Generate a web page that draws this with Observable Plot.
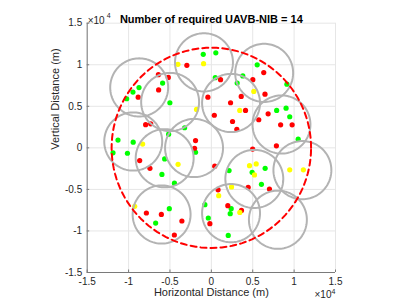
<!DOCTYPE html>
<html><head><meta charset="utf-8">
<script src="https://cdn.jsdelivr.net/npm/d3@7"></script>
<script src="https://cdn.jsdelivr.net/npm/@observablehq/plot@0.6"></script>
<style>body{margin:0;background:#fff} svg{display:block}</style>
</head><body><div id="chart"></div>
<script>
const titleText = "Number of required UAVB-NIB = 14";
const xLabel = "Horizontal Distance (m)";
const yLabel = "Vertical Distance (m)";
const xTicks = [-15000, -10000, -5000, 0, 5000, 10000, 15000];
const yTicks = [-15000, -10000, -5000, 0, 5000, 10000, 15000];
const tickLabels = ["-1.5", "-1", "-0.5", "0", "0.5", "1", "1.5"];
const exponentBase = "×10";
const exponentPower = "4";

const greenX = [-980, 540, 5540, 470, 3800, 3120, 9130, -5890, -8740, -9470, -10230, -5010, 7890, 9030, 9470, 10490, -3230, -5160, -11280, -9440, -1910, -11880, -10140, -5640, -5970, -4460, 2140, 6500, 4930, 6050, -780, 2400, 2280, -370, -5080, -6730, 2040];
const greenY = [11250, 11430, 9990, 8450, 8660, 7790, 7660, 7790, 7250, 6710, 5910, 5430, 4500, 4780, 3740, 1040, 2420, 1640, 940, 680, -530, -600, -650, -1330, -3200, -4250, -2740, -2460, -2940, -4390, -6840, -7320, -7920, -8440, -7320, -9050, -10540];
const redX = [-2960, 6330, -6400, -5200, 1110, 5010, -6370, -8840, -420, 6480, 3610, 2320, 4130, 6860, 360, 2560, 5730, 8370, 9760, 3080, -7940, -7330, -1910, -2030, 7860, 4990, -8660, -7420, 410, 7020, 4450, 810, 1990, 3640, -180, -7850, -6040, -3560, -4470];
const redY = [9930, 9060, 8800, 8480, 8200, 8200, 6970, 6100, 6100, 6460, 6190, 5430, 4500, 4100, 3920, 3170, 3380, 2770, 2770, 2240, 2790, 2890, 880, -50, 240, -150, -1530, -2460, -2200, -4950, -4750, -5050, -6960, -7530, -9130, -7840, -8010, -8800, -10490];
const yellowX = [-4040, -940, 5130, -1790, 3430, -8300, -4020, 4610, 5420, 5210, 2440, 9470, 11120, 890, 3440, -9260];
const yellowY = [10050, 10130, 6790, 4620, 4500, 460, -1980, -2140, -1930, -3260, -4700, -2650, -2650, -5750, -7770, -7040];

const uavX = [-890, 6380, -8720, -4980, 2380, 8470, -9440, -5640, -2090, 5190, 11000, 2380, 8040, -6010];
const uavY = [10290, 9020, 7270, 5520, 5400, 2810, 760, -1250, -20, -3740, -2680, -7860, -8650, -8020];
const uavRadius = 3500;
const areaCenter = [0, 0];
const areaRadius = 12050;

const points = [
  ...greenX.map((x, i) => ({x, y: greenY[i], c: "#00ff00"})),
  ...redX.map((x, i) => ({x, y: redY[i], c: "#ff0000"})),
  ...yellowX.map((x, i) => ({x, y: yellowY[i], c: "#ffff00"}))
];
const angles = d3.range(0, 361, 3).map(a => a * Math.PI / 180);
const ring = (cx, cy, r, id) => angles.map(t => ({x: cx + r * Math.cos(t), y: cy + r * Math.sin(t), id}));
const uavRings = uavX.flatMap((cx, i) => ring(cx, uavY[i], uavRadius, i));
const areaRing = ring(areaCenter[0], areaCenter[1], areaRadius, 0);

const W = 407, H = 305, mL = 86.7, mR = 72, mT = 22.7, mB = 33;
const innerW = W - mL - mR, innerH = H - mT - mB;
const axisColor = "#7a7a7a";
const fmt = d => tickLabels[xTicks.indexOf(d)];

const chart = Plot.plot({
  width: W, height: H,
  marginLeft: mL, marginRight: mR, marginTop: mT, marginBottom: mB,
  x: {domain: [-15000, 15000]},
  y: {domain: [-15000, 15000]},
  style: {fontFamily: "'Liberation Sans', Arial, Helvetica, sans-serif", background: "#fff", color: "#262626"},
  marks: [
    Plot.gridX(xTicks, {stroke: "#e6e6e6", strokeOpacity: 1}),
    Plot.gridY(yTicks, {stroke: "#e6e6e6", strokeOpacity: 1}),
    Plot.dot(points, {x: "x", y: "y", fill: "c", r: 2.6}),
    Plot.line(uavRings, {x: "x", y: "y", z: "id", stroke: "#b3b3b3", strokeWidth: 2}),
    Plot.line(areaRing, {x: "x", y: "y", stroke: "#ff0000", strokeWidth: 2, strokeDasharray: "6,4"}),
    Plot.ruleX([-15000], {stroke: axisColor}),
    Plot.ruleY([-15000], {stroke: axisColor}),
    Plot.ruleX(xTicks, {stroke: axisColor, insetTop: innerH - 2.5}),
    Plot.ruleY(yTicks, {stroke: axisColor, insetRight: innerW - 2.5}),
    Plot.axisX(xTicks, {tickSize: 0, tickPadding: 5, tickFormat: fmt, fontSize: 10, label: null}),
    Plot.axisY(yTicks, {tickSize: 0, tickPadding: 5, tickFormat: fmt, fontSize: 10, label: null}),
    Plot.text([titleText], {text: d => d, frameAnchor: "top", dy: -8, fontWeight: "bold", fontSize: 11, fill: "#000"}),
    Plot.text([xLabel], {text: d => d, frameAnchor: "bottom", dy: 23.5, fontSize: 11}),
    Plot.text([yLabel], {text: d => d, frameAnchor: "left", rotate: -90, dx: -31.5, dy: 2, fontSize: 11}),
    Plot.text([exponentBase], {text: d => d, frameAnchor: "top-left", textAnchor: "start", dx: 0.5, dy: -6, fontSize: 10}),
    Plot.text([exponentPower], {text: d => d, frameAnchor: "top-left", textAnchor: "start", dx: 19.5, dy: -10, fontSize: 7}),
    Plot.text([exponentBase], {text: d => d, frameAnchor: "bottom-right", textAnchor: "end", dx: -4, dy: 25, fontSize: 10}),
    Plot.text([exponentPower], {text: d => d, frameAnchor: "bottom-right", textAnchor: "end", dx: 0, dy: 21, fontSize: 7})
  ]
});
document.getElementById("chart").appendChild(chart);
</script></body></html>
